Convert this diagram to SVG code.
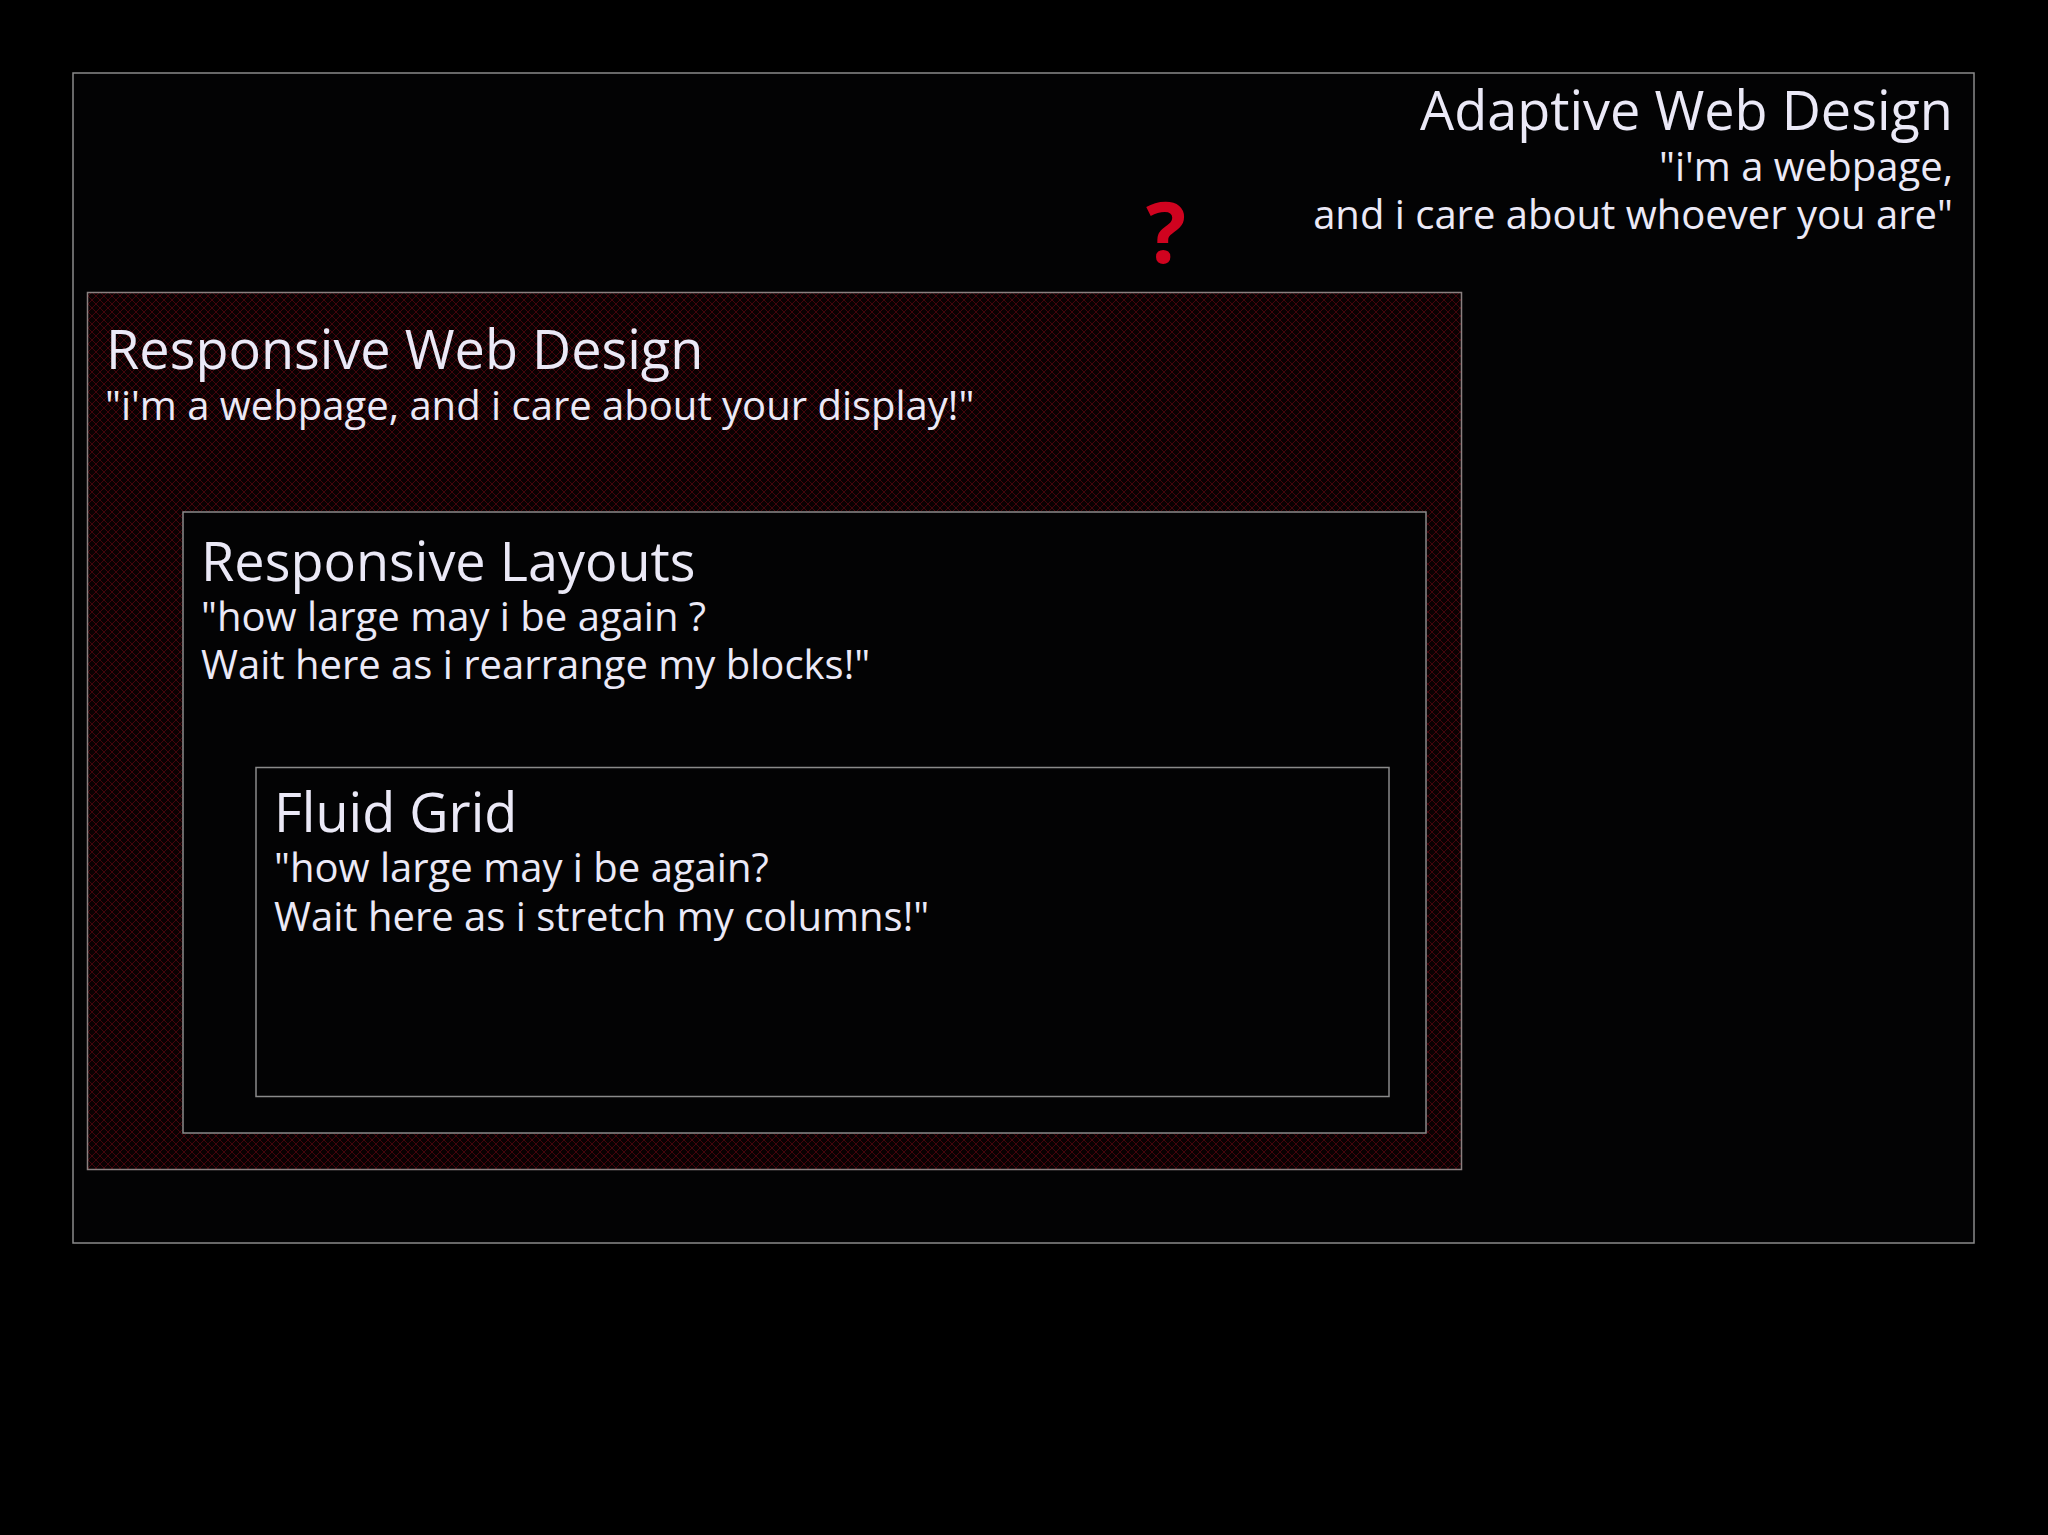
<svg xmlns="http://www.w3.org/2000/svg" width="2048" height="1535" viewBox="0 0 2048 1535">
  <defs>
    <pattern id="hatch" width="8" height="8" patternUnits="userSpaceOnUse">
      <rect width="8" height="8" fill="#0a0102"/>
      <path d="M0 0 L8 8 M8 0 L0 8" stroke="#52060f" stroke-width="0.8"/>
    </pattern>
  </defs>
  <style>
    .box { fill: #030304; stroke: #8a8a8a; stroke-width: 1.5; }
    .t { font-family: "Open Sans", "Noto Sans", "DejaVu Sans", sans-serif; fill: #ebe9f7; }
    .title { font-size: 54px; }
    .sub { font-size: 40px; }
    .q { font-family: "Open Sans", "Noto Sans", sans-serif; font-weight: bold; font-size: 84px; fill: #d0031f; }
  </style>
  <rect width="2048" height="1535" fill="#000"/>

  <g id="adaptive">
    <rect class="box" x="73" y="73" width="1901" height="1170" fill="#040404"/>
    <text class="t title" x="1953" y="130" text-anchor="end">Adaptive Web Design</text>
    <text class="t sub" x="1953" y="181" text-anchor="end">"i'm a webpage,</text>
    <text class="t sub" x="1953" y="229" text-anchor="end">and i care about whoever you are"</text>
  </g>

  <g id="question">
    <text class="q" x="1146" y="263">?</text>
  </g>

  <g id="responsive">
    <rect x="87.5" y="292.5" width="1374" height="877" fill="url(#hatch)" stroke="#8a8080" stroke-width="1.5"/>
    <text class="t title" x="106" y="369">Responsive Web Design</text>
    <text class="t sub" x="105" y="420">"i'm a webpage, and i care about your display!"</text>
  </g>

  <g id="layouts">
    <rect class="box" x="183" y="512" width="1243" height="621"/>
    <text class="t title" x="201" y="581">Responsive Layouts</text>
    <text class="t sub" x="201" y="631">"how large may i be again ?</text>
    <text class="t sub" x="201" y="679">Wait here as i rearrange my blocks!"</text>
  </g>

  <g id="fluid">
    <rect class="box" x="256" y="767.5" width="1133" height="329"/>
    <text class="t title" x="274" y="832">Fluid Grid</text>
    <text class="t sub" x="274" y="882">"how large may i be again?</text>
    <text class="t sub" x="274" y="931">Wait here as i stretch my columns!"</text>
  </g>

  <g id="connectors"/>
</svg>
